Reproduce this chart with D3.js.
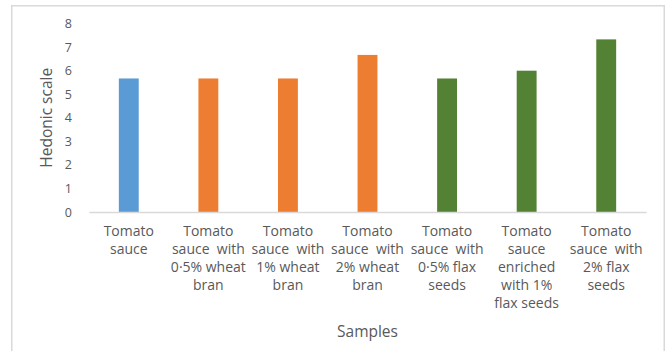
<!DOCTYPE html>
<html>
<head>
<meta charset="utf-8">
<script src="https://cdn.jsdelivr.net/npm/d3@7"></script>
<style>
  html, body { margin: 0; padding: 0; background: #fff; }
  svg { display: block; }
  text { font-family: "Open Sans", Lato, sans-serif; fill: #595959; }
</style>
</head>
<body>
<svg id="chart" width="669" height="351"></svg>
<script>
// Sample names, each split into the lines shown under the bar
const categories = [
  ["Tomato", "sauce"],
  ["Tomato", "sauce \u00a0with", "0·5% wheat", "bran"],
  ["Tomato", "sauce \u00a0with", "1% wheat", "bran"],
  ["Tomato", "sauce \u00a0with", "2% wheat", "bran"],
  ["Tomato", "sauce \u00a0with", "0·5% flax", "seeds"],
  ["Tomato", "sauce", "enriched", "with 1%", "flax seeds"],
  ["Tomato", "sauce \u00a0with", "2% flax", "seeds"]
];
// Mean hedonic score for each sample
const values = [5.67, 5.67, 5.67, 6.67, 5.67, 6.0, 7.33];
// Which additive each sample belongs to
const groups = ["control", "wheat", "wheat", "wheat", "flax", "flax", "flax"];
const yTicks = [0, 1, 2, 3, 4, 5, 6, 7, 8];

const svg = d3.select("#chart");

// Outer chart frame
svg.append("rect")
  .attr("x", 11.75).attr("y", 5.75)
  .attr("width", 652.5).attr("height", 360)
  .attr("fill", "none").attr("stroke", "#d9d9d9").attr("stroke-width", 1.5);

const plot = { left: 89, right: 646, top: 23.6, bottom: 212 };

const x = d3.scaleBand()
  .domain(d3.range(categories.length))
  .range([plot.left, plot.right])
  .paddingInner(0.75)
  .paddingOuter(0.375);

const y = d3.scaleLinear().domain([0, 8]).range([plot.bottom, plot.top]);

const color = d3.scaleOrdinal()
  .domain(["control", "wheat", "flax"])
  .range(["#5b9bd5", "#ed7d31", "#548235"]);

// Bars
svg.append("g").selectAll("rect")
  .data(values)
  .join("rect")
  .attr("x", (d, i) => x(i))
  .attr("width", x.bandwidth())
  .attr("y", d => y(d))
  .attr("height", d => y(0) - y(d))
  .attr("fill", (d, i) => color(groups[i]));

// Y axis: labels only, no line or tick marks
const yAxis = svg.append("g")
  .attr("transform", `translate(${plot.left - 10},0)`)
  .call(d3.axisLeft(y).tickValues(yTicks).tickSize(0).tickPadding(7).tickFormat(d3.format("d")));
yAxis.select(".domain").remove();
yAxis.selectAll("text")
  .attr("font-size", 12.5)
  .style("font-family", "'Open Sans', Lato, sans-serif")
  .attr("fill", "#595959");

// X axis baseline
const xAxis = svg.append("g")
  .attr("transform", `translate(0,${plot.bottom})`)
  .call(d3.axisBottom(x).tickSize(0).tickFormat(""));
xAxis.select(".domain")
  .attr("stroke", "#d9d9d9").attr("stroke-width", 1.5);

// Multi-line category labels
const lineH = 17.9;
const labels = svg.append("g").selectAll("text")
  .data(categories)
  .join("text")
  .attr("text-anchor", "middle")
  .attr("font-size", 14)
  .attr("transform", (d, i) => `translate(${x(i) + x.bandwidth() / 2},${plot.bottom + 24})`);
labels.selectAll("tspan")
  .data(d => d)
  .join("tspan")
  .attr("x", 0)
  .attr("y", (d, j) => j * lineH)
  .text(d => d);

// Axis titles
svg.append("text")
  .attr("transform", `translate(52,${(plot.top + plot.bottom) / 2}) rotate(-90)`)
  .attr("text-anchor", "middle")
  .attr("font-size", 15.5)
  .text("Hedonic scale");

svg.append("text")
  .attr("x", (plot.left + plot.right) / 2)
  .attr("y", 337)
  .attr("text-anchor", "middle")
  .attr("font-size", 15.5)
  .text("Samples");
</script>
</body>
</html>
